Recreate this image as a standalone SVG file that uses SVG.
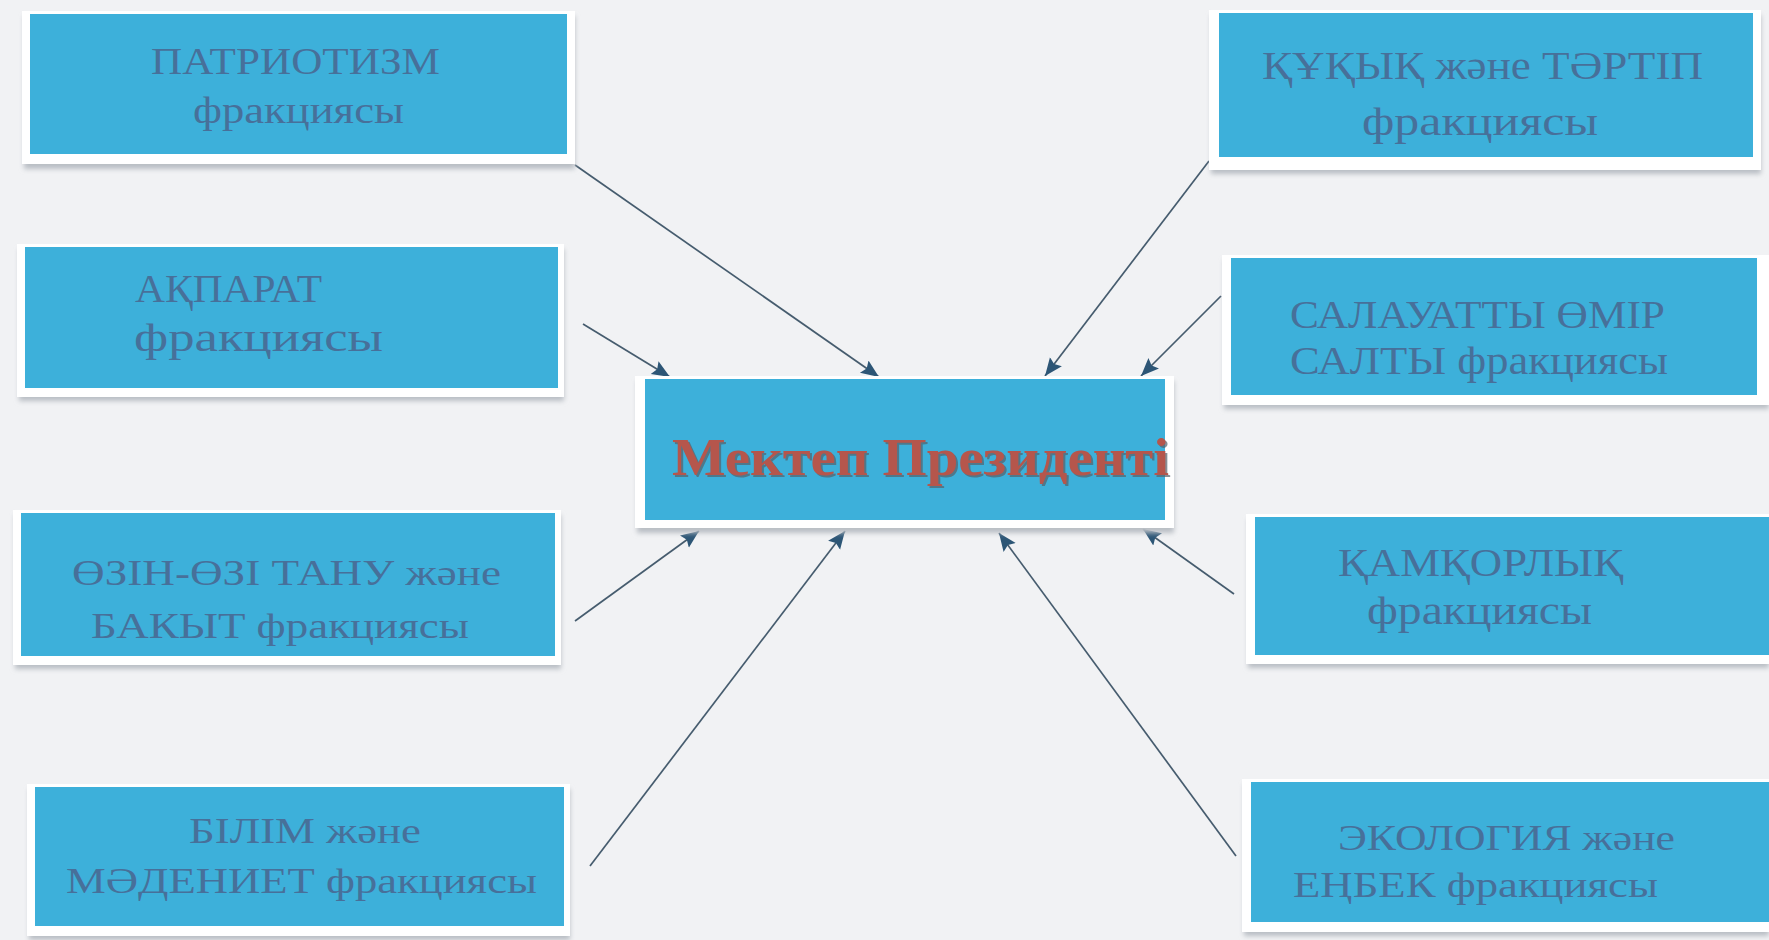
<svg xmlns="http://www.w3.org/2000/svg" width="1769" height="940" viewBox="0 0 1769 940">
  <defs>
    <style>
      .frame { fill: #ffffff; }
      .shadow { fill: #b9bec4; filter: url(#blur); }
      .box { fill: #3db0da; }
      .lbl { font-family: "Liberation Serif", "Times New Roman", serif; fill: #47709a; }
      .title { font-family: "Liberation Serif", "Times New Roman", serif; font-weight: bold; font-size: 53px; }
      .conn { stroke: #465c6e; stroke-width: 1.7; fill: none; marker-end: url(#arrow); }
    </style>
    <filter id="blur" x="-5%" y="-20%" width="110%" height="140%">
      <feGaussianBlur stdDeviation="2.5"/>
    </filter>
    <marker id="arrow" markerUnits="userSpaceOnUse" markerWidth="20" markerHeight="16" refX="18" refY="7.5" orient="auto">
      <path d="M0,0 L18,7.5 L0,15 L3,7.5 z" fill="#2d5676"/>
    </marker>
  </defs>

  <rect x="0" y="0" width="1769" height="940" fill="#f1f2f4"/>

  <g id="connectors">
    <line class="conn" x1="575" y1="165" x2="879" y2="377"/>
    <line class="conn" x1="583" y1="324" x2="670" y2="377"/>
    <line class="conn" x1="1209" y1="161" x2="1045" y2="376"/>
    <line class="conn" x1="1221" y1="296" x2="1141" y2="376"/>
    <line class="conn" x1="575" y1="621" x2="699" y2="531"/>
    <line class="conn" x1="590" y1="866" x2="845" y2="531"/>
    <line class="conn" x1="1234" y1="594" x2="1143" y2="529"/>
    <line class="conn" x1="1236" y1="856" x2="999" y2="533"/>
  </g>

  <g id="node-patriotizm">
    <rect class="shadow" x="24" y="16" width="551" height="153"/>
    <rect class="frame" x="22" y="11" width="553" height="153"/>
    <rect class="box" x="30" y="14" width="537" height="140"/>
    <text class="lbl" font-size="37" x="151" y="74" textLength="289" lengthAdjust="spacingAndGlyphs">ПАТРИОТИЗМ</text>
    <text class="lbl" font-size="37" x="193" y="123" textLength="211" lengthAdjust="spacingAndGlyphs">фракциясы</text>
  </g>

  <g id="node-akparat">
    <rect class="shadow" x="19" y="249" width="545" height="152"/>
    <rect class="frame" x="17" y="244" width="547" height="153"/>
    <rect class="box" x="25" y="247" width="533" height="141"/>
    <text class="lbl" font-size="41" x="135" y="302" textLength="187" lengthAdjust="spacingAndGlyphs">АҚПАРАТ</text>
    <text class="lbl" font-size="41" x="134" y="351" textLength="249" lengthAdjust="spacingAndGlyphs">фракциясы</text>
  </g>

  <g id="node-ozin">
    <rect class="shadow" x="15" y="515" width="546" height="154"/>
    <rect class="frame" x="13" y="510" width="548" height="155"/>
    <rect class="box" x="21" y="513" width="534" height="143"/>
    <text class="lbl" font-size="36" x="72" y="585" textLength="429" lengthAdjust="spacingAndGlyphs">ӨЗІН-ӨЗІ ТАНУ және</text>
    <text class="lbl" font-size="36" x="91" y="638" textLength="378" lengthAdjust="spacingAndGlyphs">БАКЫТ фракциясы</text>
  </g>

  <g id="node-bilim">
    <rect class="shadow" x="29" y="789" width="541" height="151"/>
    <rect class="frame" x="27" y="784" width="543" height="152"/>
    <rect class="box" x="35" y="787" width="529" height="139"/>
    <text class="lbl" font-size="36" x="189" y="843" textLength="232" lengthAdjust="spacingAndGlyphs">БІЛІМ және</text>
    <text class="lbl" font-size="36" x="66" y="893" textLength="471" lengthAdjust="spacingAndGlyphs">МӘДЕНИЕТ фракциясы</text>
  </g>

  <g id="node-kukyk">
    <rect class="shadow" x="1211" y="15" width="550" height="159"/>
    <rect class="frame" x="1209" y="10" width="552" height="160"/>
    <rect class="box" x="1219" y="13" width="534" height="144"/>
    <text class="lbl" font-size="40" x="1262" y="79" textLength="441" lengthAdjust="spacingAndGlyphs">ҚҰҚЫҚ және ТӘРТІП</text>
    <text class="lbl" font-size="40" x="1362" y="135" textLength="236" lengthAdjust="spacingAndGlyphs">фракциясы</text>
  </g>

  <g id="node-salauatty">
    <rect class="shadow" x="1224" y="260" width="545" height="149"/>
    <rect class="frame" x="1222" y="255" width="547" height="150"/>
    <rect class="box" x="1231" y="258" width="526" height="137"/>
    <text class="lbl" font-size="40" x="1290" y="328" textLength="375" lengthAdjust="spacingAndGlyphs">САЛАУАТТЫ ӨМІР</text>
    <text class="lbl" font-size="40" x="1290" y="374" textLength="378" lengthAdjust="spacingAndGlyphs">САЛТЫ фракциясы</text>
  </g>

  <g id="node-kamkorlyk">
    <rect class="shadow" x="1248" y="519" width="521" height="149"/>
    <rect class="frame" x="1246" y="514" width="523" height="150"/>
    <rect class="box" x="1255" y="517" width="514" height="138"/>
    <text class="lbl" font-size="40" x="1338" y="576" textLength="285" lengthAdjust="spacingAndGlyphs">ҚАМҚОРЛЫҚ</text>
    <text class="lbl" font-size="40" x="1367" y="624" textLength="225" lengthAdjust="spacingAndGlyphs">фракциясы</text>
  </g>

  <g id="node-ekologiya">
    <rect class="shadow" x="1244" y="784" width="525" height="152"/>
    <rect class="frame" x="1242" y="779" width="527" height="153"/>
    <rect class="box" x="1251" y="782" width="518" height="140"/>
    <text class="lbl" font-size="36" x="1338" y="850" textLength="337" lengthAdjust="spacingAndGlyphs">ЭКОЛОГИЯ және</text>
    <text class="lbl" font-size="36" x="1293" y="897" textLength="365" lengthAdjust="spacingAndGlyphs">ЕҢБЕК фракциясы</text>
  </g>

  <g id="node-president">
    <rect class="shadow" x="637" y="381" width="537" height="152"/>
    <rect class="frame" x="635" y="376" width="539" height="152"/>
    <rect class="box" x="645" y="379" width="520" height="141"/>
    <text class="title" x="674" y="477" textLength="497" lengthAdjust="spacingAndGlyphs" fill="#56616a" opacity="0.7">Мектеп Президенті</text>
    <text class="title" x="672" y="475" textLength="497" lengthAdjust="spacingAndGlyphs" fill="#b5564c">Мектеп Президенті</text>
  </g>
</svg>
